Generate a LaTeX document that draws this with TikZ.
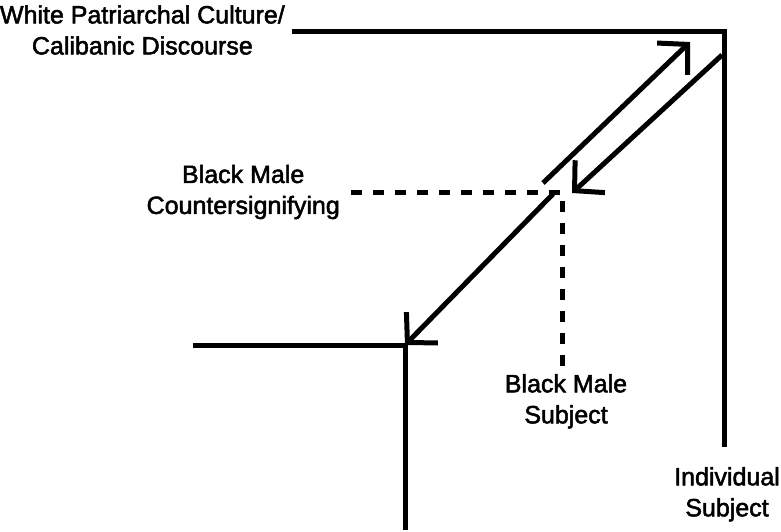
\documentclass[tikz,border=0pt]{standalone}
\usepackage{fontspec}
\setmainfont{Liberation Sans}
\newfontfamily\scanfont[RawFeature={embolden=2}]{Liberation Sans}
\usepackage{tikz}
\usetikzlibrary{arrows.meta,positioning}

\tikzset{
  wall/.style={line width=5pt, line join=miter},
  sig/.style={line width=5pt, -{Straight Barb[length=21pt, width=44pt, line cap=butt, line join=miter]}},
  mark line/.style={line width=5pt, dash pattern=on 11pt off 11pt},
  lbl/.style={inner sep=0pt, align=center, font=\scanfont\fontsize{25}{31}\selectfont}
}

\begin{document}
\begin{tikzpicture}[x=1pt,y=-1pt]
  \useasboundingbox (0,0) rectangle (781,532);

  % corners and ends
  \coordinate (tl)    at (292,32);
  \coordinate (tr)    at (724,32);
  \coordinate (rend)  at (724,447);
  \coordinate (ll)    at (193,345);
  \coordinate (lc)    at (405,345);
  \coordinate (lend)  at (405,530);
  \coordinate (meet)  at (562,192);
  \coordinate (dstart) at (351,192);
  \coordinate (dend)  at (562,373);

  % labels
  \node[lbl, left=7pt of tl, yshift=2pt] (wpc) {White Patriarchal Culture/\\Calibanic Discourse};
  \node[lbl, left=11pt of dstart] (bmc) {Black Male\\Countersignifying};
  \node[lbl, below=1pt of dend, xshift=4pt] (bms) {Black Male\\Subject};
  \node[lbl, below=20pt of rend, xshift=3pt] (ind) {Individual\\Subject};

  % discourse lines
  \draw[wall] (tl) -- (tr) -- (rend);
  \draw[wall] (ll) -- (lc) -- (lend);

  % signifying arrows
  \draw[sig] (543,183) -- (690,42);
  \draw[sig] (722,55) -- (572,193);
  \draw[sig] (553,194) -- (lc);

  % dashed markers
  \draw[mark line] (dstart) -- (meet) -- (dend);

\end{tikzpicture}
\end{document}
